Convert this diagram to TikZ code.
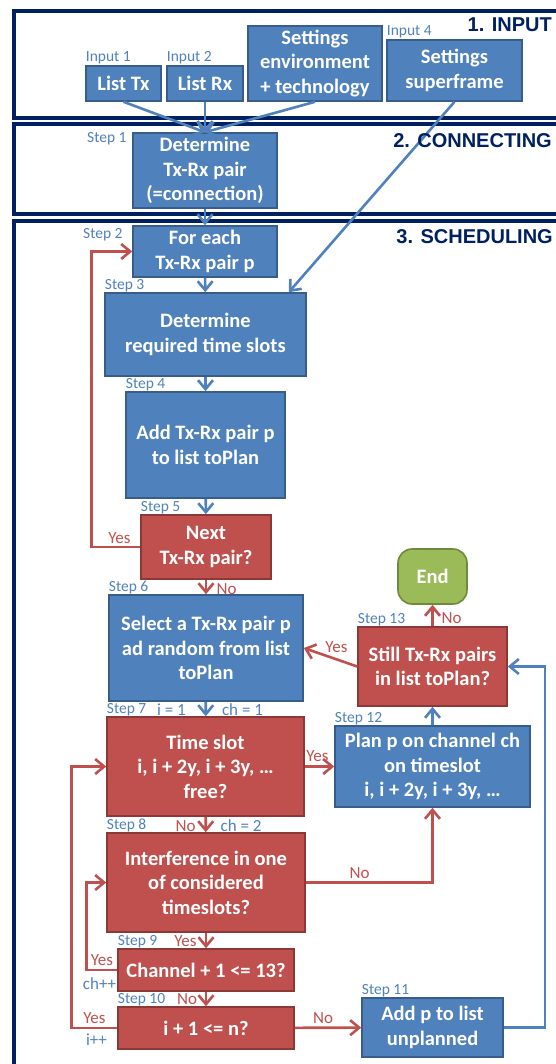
\documentclass[tikz,border=0pt]{standalone}
\usepackage{fontspec}
\setmainfont{Carlito}
\newfontfamily\titleFont{Liberation Sans}
\usetikzlibrary{arrows.meta}
\usetikzlibrary{calc}

\definecolor{navyLine}{HTML}{002060}
\definecolor{boxBlue}{HTML}{4F81BD}
\definecolor{boxBlueEdge}{HTML}{385D8A}
\definecolor{boxRed}{HTML}{C0504D}
\definecolor{boxRedEdge}{HTML}{8C3836}
\definecolor{endGreen}{HTML}{9BBB59}
\definecolor{endGreenEdge}{HTML}{71893F}

\begin{document}
\begin{tikzpicture}[x=1pt, y=-1pt,
    blueBox/.style={draw=boxBlueEdge, fill=boxBlue, line width=1.6pt, text=white,
      align=center, inner sep=2pt, font=\fontsize{20.5}{24.5}\selectfont\bfseries},
    redBox/.style={blueBox, draw=boxRedEdge, fill=boxRed},
    greenEnd/.style={blueBox, draw=endGreenEdge, fill=endGreen, rounded corners=14pt},
    boxSize/.style 2 args={minimum width=#1, minimum height=#2},
    stepTag/.style={text=boxBlue, inner sep=0.5pt, font=\fontsize{15.5}{18}\selectfont},
    varTag/.style={stepTag, anchor=base, font=\fontsize{17}{20}\selectfont},
    answerTag/.style={varTag, text=boxRed},
    secTitle/.style={text=navyLine, anchor=base east, inner sep=0pt,
      font=\titleFont\fontsize{20}{24}\selectfont\bfseries},
    secFrame/.style={draw=navyLine, line width=4pt},
    blueArrow/.style={draw=boxBlue, line width=2.6pt, -{Straight Barb[length=9pt,width=15pt]}},
    redArrow/.style={blueArrow, draw=boxRed}
  ]

    \useasboundingbox (0,0) rectangle (556,1064);
    \clip (0,0) rectangle (556,1064);

    % section frames, open to the right
    \draw[secFrame] (14,11.5) rectangle (600,118.5);
    \draw[secFrame] (14,124.5) rectangle (600,214);
    \draw[secFrame] (14,221) rectangle (600,1100);

    % 1. input
    \node[blueBox, boxSize={75}{35}] (listTx) at (123.5,83.5) {List Tx};
    \node[blueBox, boxSize={76}{35}] (listRx) at (205,83.5) {List Rx};
    \node[blueBox, boxSize={134}{75}] (setEnv) at (315,63.5) {Settings\\environment\\+ technology};
    \node[blueBox, boxSize={135}{61}] (setFrame) at (454.5,70.5) {Settings\\superframe};

    % 2. connecting
    \node[blueBox, boxSize={144}{75}] (step1) at (205,170.5) {Determine\\Tx-Rx pair\\(=connection)};

    % 3. scheduling
    \node[blueBox, boxSize={144}{51}] (step2) at (205,251.5) {For each\\Tx-Rx pair p};
    \node[blueBox, boxSize={201}{83}] (step3) at (205.5,334.5) {Determine\\required time slots};
    \node[blueBox, boxSize={159}{106}] (step4) at (205.5,445) {Add Tx-Rx pair p\\to list toPlan};
    \node[redBox, boxSize={130}{64}] (step5) at (206,547) {Next\\Tx-Rx pair?};
    \node[blueBox, boxSize={194}{106}] (step6) at (206,648) {Select a Tx-Rx pair p\\ad random from list\\toPlan};
    \node[greenEnd, boxSize={69}{55}] (theEnd) at (432.5,576.5) {End};
    \node[redBox, boxSize={149}{79}] (step13) at (432.5,666.5) {Still Tx-Rx pairs\\in list toPlan?};
    \node[redBox, boxSize={197}{99}] (step7) at (205.5,766.5) {Time slot\\i, i + 2y, i + 3y, …\\free?};
    \node[blueBox, boxSize={195}{81}] (step12) at (432.5,766.5) {Plan p on channel ch\\on timeslot\\i, i + 2y, i + 3y, …};
    \node[redBox, boxSize={198}{99}] (step8) at (206,882.5) {Interference in one\\of considered\\timeslots?};
    \node[redBox, boxSize={176}{42}] (step9) at (206,970) {Channel + 1 <= 13?};
    \node[redBox, boxSize={176}{42}] (step10) at (206,1028) {i + 1 <= n?};
    \node[blueBox, boxSize={141}{59}] (step11) at (432.5,1027.5) {Add p to list\\unplanned};

    % step tags
    \foreach \boxName/\tagText in {listTx/Input 1, listRx/Input 2, setFrame/Input 4,
        step3/Step 3, step4/Step 4, step5/Step 5, step6/Step 6, step7/Step 7,
        step8/Step 8, step9/Step 9, step10/Step 10, step11/Step 11,
        step12/Step 12, step13/Step 13}
      \node[stepTag, anchor=south west] (\boxName Tag) at (\boxName.north west) {\tagText};
    \node[stepTag, anchor=north east] (step1Tag) at ($(step1.north west)+(-5,0)$) {Step 1};
    \node[stepTag, anchor=north east] (step2Tag) at ($(step2.north west)+(-9,3)$) {Step 2};

    \node[varTag] (iOne) at (171.5,715) {i = 1};
    \node[varTag] (chOne) at (242.5,715) {ch = 1};
    \node[varTag] (chTwo) at (241,831) {ch = 2};
    \node[varTag] (chInc) at (99.5,989) {ch++};
    \node[varTag] (iInc) at (96.5,1045) {i++};

    % answers
    \node[answerTag] (yes5) at (119.5,543) {Yes};
    \node[answerTag] (no5) at (226.5,594) {No};
    \node[answerTag] (yes13) at (336.5,652) {Yes};
    \node[answerTag] (no13) at (451.5,623) {No};
    \node[answerTag] (yes7) at (317.5,761) {Yes};
    \node[answerTag] (no7) at (185.5,831) {No};
    \node[answerTag] (no8) at (359.5,878) {No};
    \node[answerTag] (yes8) at (185.5,946) {Yes};
    \node[answerTag] (yes9) at (102,965) {Yes};
    \node[answerTag] (no9) at (187,1004) {No};
    \node[answerTag] (yes10) at (94.5,1023) {Yes};
    \node[answerTag] (no10) at (323,1023) {No};

    % connectors
    \foreach \src in {listTx, listRx, setEnv}
      \draw[blueArrow] (\src.south) -- (step1.north);
    \draw[blueArrow] (setFrame.south) -- ($(step3.north east)+(-18,0)$);
    \draw[blueArrow] (step1) -- (step2);
    \foreach \a/\b in {step2/step3, step3/step4, step4/step5, step6/step7, step12/step13}
      \draw[blueArrow] (\a) -- (\b);
    \draw[redArrow] (step5) -- (step6);
    \draw[redArrow] (step5.west) -- ++(-49,0) |- (step2.west);
    \draw[redArrow] (step13.west) -- (step6.east);
    \draw[redArrow] (step13) -- (theEnd);
    \draw[redArrow] (step7) -- (step12);
    \draw[redArrow] (step7) -- (step8);
    \draw[redArrow] (step8.east) -| (step12.south);
    \draw[redArrow] (step8) -- (step9);
    \draw[redArrow] (step9) -- (step10);
    \draw[redArrow] (step9.west) -- ++(-31,0) |- (step8.west);
    \draw[redArrow] (step10.west) -- ++(-46,0) |- (step7.west);
    \draw[redArrow] (step10) -- (step11);
    \draw[blueArrow] (step11.east) -- ++(41,0) |- (step13.east);

    % section titles
    \node[secTitle] (inputTitle) at (552,32) {1. INPUT};
    \node[secTitle] (connTitle) at (552,148) {2. CONNECTING};
    \node[secTitle] (schedTitle) at (553,244) {3. SCHEDULING};

\end{tikzpicture}
\end{document}
